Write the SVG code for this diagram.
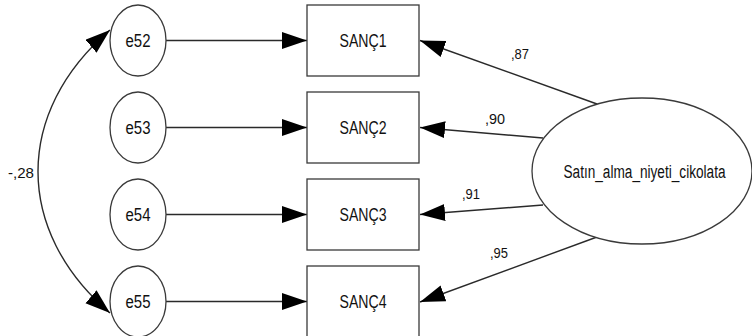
<svg xmlns="http://www.w3.org/2000/svg" width="752" height="336" viewBox="0 0 752 336">
  <defs>
    <marker id="head" markerUnits="userSpaceOnUse" markerWidth="26" markerHeight="18" refX="25" refY="8.5" orient="auto-start-reverse">
      <path d="M0,0 L25,8.5 L0,17 z" fill="#000"/>
    </marker>
    <style>
      .shape { fill: #fff; stroke: #3a3a3a; stroke-width: 1.3; }
      .link { fill: none; stroke: #2a2a2a; stroke-width: 1.4; marker-end: url(#head); }
      .lbl { font-family: "Liberation Sans", Arial, sans-serif; fill: #111; }
      .node { font-size: 18px; text-anchor: middle; }
      .coef { font-size: 15px; }
    </style>
  </defs>

  <g id="connectors">
    <!-- error terms to indicators -->
    <line class="link" x1="166" y1="40.5" x2="307" y2="40.5"/>
    <line class="link" x1="166" y1="127.5" x2="307" y2="127.5"/>
    <line class="link" x1="166" y1="214.5" x2="307" y2="214.5"/>
    <line class="link" x1="166" y1="301.5" x2="307" y2="301.5"/>
    <!-- factor loadings -->
    <line class="link" x1="597" y1="104" x2="420" y2="40.5"/>
    <line class="link" x1="543" y1="138" x2="420" y2="127.5"/>
    <line class="link" x1="543" y1="205" x2="420" y2="214.5"/>
    <line class="link" x1="597" y1="237" x2="420" y2="302"/>
    <!-- error covariance e52 <-> e55 -->
    <path class="link" style="marker-start: url(#head)" d="M110,30 C14,112 14,231 110,313"/>
    <text class="lbl coef" x="8" y="178" textLength="26" lengthAdjust="spacingAndGlyphs">-,28</text>
    <text class="lbl coef" x="511" y="59" textLength="18" lengthAdjust="spacingAndGlyphs">,87</text>
    <text class="lbl coef" x="485" y="124" textLength="20" lengthAdjust="spacingAndGlyphs">,90</text>
    <text class="lbl coef" x="462" y="199" textLength="18" lengthAdjust="spacingAndGlyphs">,91</text>
    <text class="lbl coef" x="490" y="258" textLength="18" lengthAdjust="spacingAndGlyphs">,95</text>
  </g>

  <g id="e52">
    <ellipse class="shape" cx="138" cy="40.5" rx="28" ry="35.5"/>
    <text class="lbl node" x="138" y="47" textLength="25" lengthAdjust="spacingAndGlyphs">e52</text>
  </g>
  <g id="e53">
    <ellipse class="shape" cx="138" cy="127.5" rx="28" ry="35.5"/>
    <text class="lbl node" x="138" y="134" textLength="25" lengthAdjust="spacingAndGlyphs">e53</text>
  </g>
  <g id="e54">
    <ellipse class="shape" cx="138" cy="214.5" rx="28" ry="35.5"/>
    <text class="lbl node" x="138" y="221" textLength="25" lengthAdjust="spacingAndGlyphs">e54</text>
  </g>
  <g id="e55">
    <ellipse class="shape" cx="138" cy="301.5" rx="28" ry="35.5"/>
    <text class="lbl node" x="138" y="308" textLength="25" lengthAdjust="spacingAndGlyphs">e55</text>
  </g>

  <g id="SANC1">
    <rect class="shape" x="307" y="5" width="112" height="71"/>
    <text class="lbl node" x="363" y="47" textLength="47" lengthAdjust="spacingAndGlyphs">SANÇ1</text>
  </g>
  <g id="SANC2">
    <rect class="shape" x="307" y="92" width="112" height="71"/>
    <text class="lbl node" x="363" y="134" textLength="47" lengthAdjust="spacingAndGlyphs">SANÇ2</text>
  </g>
  <g id="SANC3">
    <rect class="shape" x="307" y="179" width="112" height="71"/>
    <text class="lbl node" x="363" y="221" textLength="47" lengthAdjust="spacingAndGlyphs">SANÇ3</text>
  </g>
  <g id="SANC4">
    <rect class="shape" x="307" y="266" width="112" height="71"/>
    <text class="lbl node" x="363" y="308" textLength="47" lengthAdjust="spacingAndGlyphs">SANÇ4</text>
  </g>

  <g id="Satin_alma_niyeti_cikolata">
    <ellipse class="shape" cx="642" cy="171" rx="110" ry="73"/>
    <text class="lbl node" transform="translate(644.5,178) scale(0.757,1)" x="0" y="0" font-size="19">Satın_alma_niyeti_cikolata</text>
  </g>
</svg>
